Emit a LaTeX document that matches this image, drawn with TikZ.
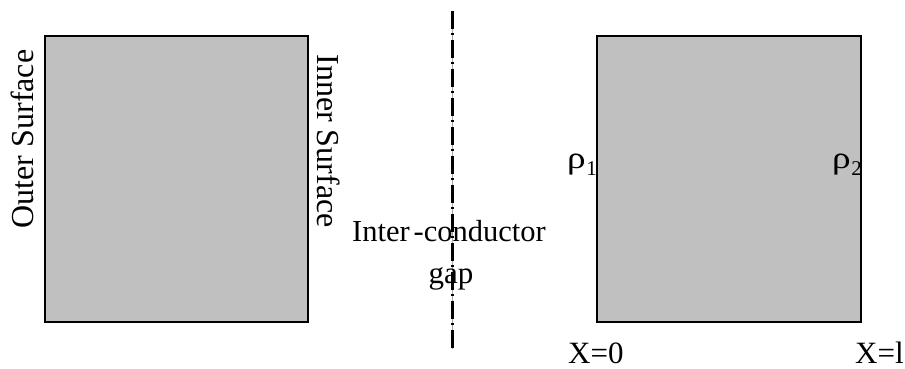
\documentclass[tikz,border=0pt]{standalone}
\usepackage{fontspec}
\setmainfont{Liberation Serif}
\definecolor{slab}{RGB}{192,192,192}
\newcommand{\rhosub}[1]{\raisebox{0.21em}{\scalebox{1.2}[1]{ρ}}\kern0.5pt{\fontsize{21}{24}\selectfont #1}}
\begin{document}
\begin{tikzpicture}[x=1pt,y=-1pt,
  slabbox/.style={draw=black,line width=2pt,fill=slab},
  lbl/.style={inner sep=0pt,font=\fontsize{31}{36}\selectfont},
  sidelbl/.style={inner sep=0pt,font=\fontsize{32}{38}\selectfont,anchor=base},
  gapline/.style={line width=3pt,dash pattern=on 18pt off 4pt on 2pt off 5pt}]
\useasboundingbox (0,0) rectangle (905,368);
\fill[white] (0,0) rectangle (905,368);
% left slab
\draw[slabbox] (45,36) rectangle (308,322);
\node[sidelbl,rotate=90] (outer) at (33,139) {Outer Surface};
\node[sidelbl,rotate=-90] (inner) at (317,141) {Inner Surface};
% gap line
\coordinate (gtop) at (452.7,11);
\coordinate (gbot) at (452.7,349);
\draw[gray!70,line width=0.8pt] (gtop) -- (gbot);
\draw[gapline] (gtop) -- (gbot);
\node[lbl,anchor=base,font=\fontsize{30.5}{36}\selectfont] (ic) at (449,241) {Inter\kern4pt-conductor};
\node[lbl,anchor=base] (gap) at (451,283) {gap};
% right slab
\draw[slabbox] (597,36) rectangle (861,322);
\node[lbl,anchor=base west] (r1) at (567,175) {\rhosub{1}};
\node[lbl,anchor=base west] (r2) at (832,175) {\rhosub{2}};
\node[lbl,anchor=base west] (x0) at (568,363) {X=0};
\node[lbl,anchor=base west] (x1) at (855,363) {X=l};
\end{tikzpicture}
\end{document}
